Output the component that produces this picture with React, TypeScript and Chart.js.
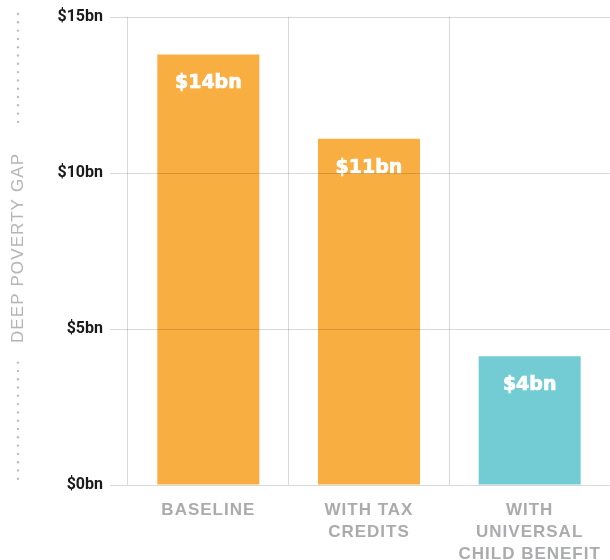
import React, { useEffect, useRef } from "react";
import { Chart, registerables } from "chart.js";

Chart.register(...registerables);

const categories: string[][] = [
  ["BASELINE"],
  ["WITH TAX", "CREDITS"],
  ["WITH", "UNIVERSAL", "CHILD BENEFIT"],
];
const povertyGap: number[] = [13.8, 11.1, 4.13];
const barColors: string[] = ["#f9ae42", "#f9ae42", "#73ccd3"];
const yTicks: number[] = [0, 5, 10, 15];
const axisTitle = "DEEP POVERTY GAP";

const GRID = "rgba(0,0,0,0.15)";

export default function App() {
  const ref = useRef<HTMLCanvasElement | null>(null);

  useEffect(() => {
    const canvas = ref.current;
    if (!canvas) return;

    const overlay = {
      id: "overlay",
      afterDatasetsDraw(chart: any) {
        const ctx = chart.ctx as CanvasRenderingContext2D;
        const meta = chart.getDatasetMeta(0);
        ctx.save();
        ctx.fillStyle = "#ffffff";
        ctx.strokeStyle = "#ffffff";
        ctx.lineWidth = 0.7;
        ctx.font = 'bold 19px "DejaVu Sans"';
        ctx.textAlign = "center";
        ctx.textBaseline = "middle";
        meta.data.forEach((bar: any, i: number) => {
          const t = `$${Math.round(povertyGap[i])}bn`;
          ctx.fillText(t, bar.x, bar.y + 29);
          ctx.strokeText(t, bar.x, bar.y + 29);
        });
        ctx.restore();
        (ctx as any).letterSpacing = "1px";
      },
      afterDraw(chart: any) {
        const ctx = chart.ctx as CanvasRenderingContext2D;
        (ctx as any).letterSpacing = "0px";
        const area = chart.chartArea;
        const cx = 18;
        const cy = 248;
        ctx.save();
        ctx.fillStyle = "#bdbdbd";
        for (let y = 14; y <= area.bottom + 0.5; y += 8.3) {
          if (y > 130 && y < 355) continue;
          ctx.beginPath();
          ctx.arc(cx, y, 1.2, 0, Math.PI * 2);
          ctx.fill();
        }
        ctx.translate(cx, cy);
        ctx.rotate(-Math.PI / 2);
        (ctx as any).letterSpacing = "1.1px";
        ctx.font = '17px "Liberation Sans"';
        ctx.fillStyle = "#b5b5b7";
        ctx.textAlign = "center";
        ctx.textBaseline = "middle";
        ctx.fillText(axisTitle, 0, 0);
        ctx.restore();
        (ctx as any).letterSpacing = "0px";
      },
    };

    const chart = new Chart(canvas, {
      type: "bar",
      data: {
        labels: categories,
        datasets: [
          {
            data: povertyGap,
            backgroundColor: barColors,
            borderWidth: 0,
            barPercentage: 0.635,
            categoryPercentage: 1,
          },
        ],
      },
      options: {
        responsive: false,
        animation: false,
        layout: { padding: { top: 17, right: 0, bottom: 0, left: 0 } },
        plugins: {
          legend: { display: false },
          tooltip: { enabled: false },
          title: { display: false },
        },
        scales: {
          x: {
            offset: true,
            grid: {
              color: GRID,
              lineWidth: 1,
              drawTicks: false,
              offset: true,
            },
            border: { display: false },
            ticks: {
              z: 1,
              autoSkip: false,
              maxRotation: 0,
              minRotation: 0,
              padding: 14,
              color: "#aaabad",
              font: { family: '"Liberation Sans"', weight: "bold", size: 17, lineHeight: 1.29 },
            },
            afterFit(scale: any) {
              scale.height = 75;
            },
          },
          y: {
            min: 0,
            max: 15,
            afterBuildTicks(scale: any) {
              scale.ticks = yTicks.map((v) => ({ value: v }));
            },
            grid: {
              color: GRID,
              lineWidth: 1,
              tickLength: 18,
              z: 1,
            },
            border: { display: false },
            ticks: {
              padding: 7,
              color: "#1a1a1a",
              font: { family: "Roboto", weight: "bold", size: 16 },
              callback: (v: any) => `$${v}bn`,
            },
            afterFit(scale: any) {
              scale.width = 128;
            },
          },
        },
      },
      plugins: [overlay],
    } as any);

    return () => chart.destroy();
  }, []);

  return (
    <div style={{ position: "fixed", left: 0, top: 0, width: 610, height: 560, background: "#fff" }}>
      <canvas ref={ref} width={610} height={560} style={{ display: "block" }} />
    </div>
  );
}
